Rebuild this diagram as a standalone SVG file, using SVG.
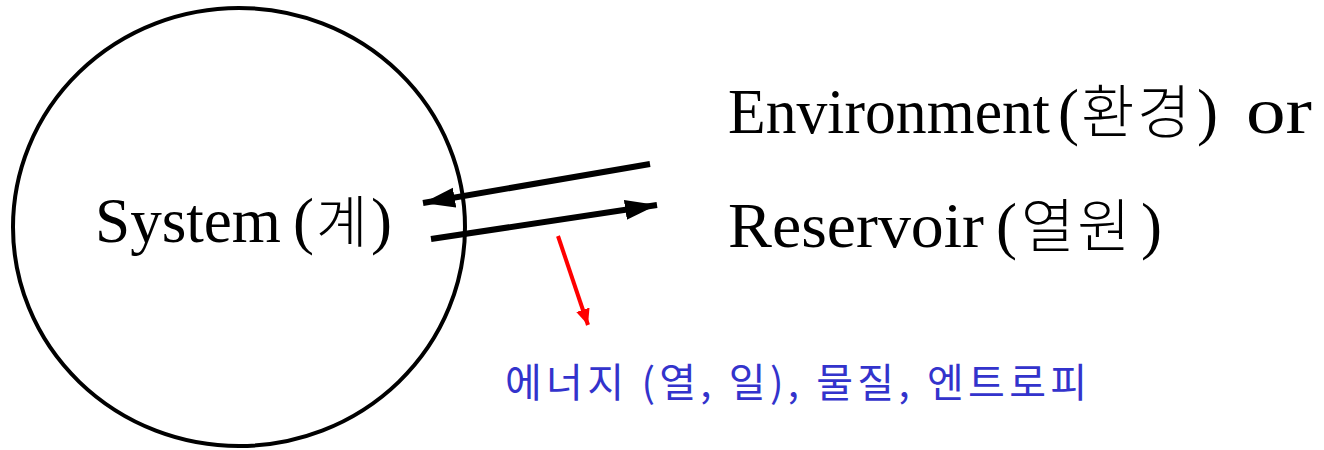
<svg xmlns="http://www.w3.org/2000/svg" width="1324" height="450" viewBox="0 0 1324 450">
<style>
.lbl{font-family:"Liberation Serif","Noto Sans CJK KR",serif;fill:#000;font-size:63px}
.ko{font-family:"Noto Sans CJK KR","Noto Sans",sans-serif;font-weight:300}
.note{font-family:"Noto Sans CJK KR","Noto Sans",sans-serif;fill:#3333cc;font-size:40px}
.blk{stroke:#000;stroke-width:6;fill:none}
.red{stroke:#ff0000;stroke-width:4;fill:none}
</style>
<defs>
<marker id="ah" markerUnits="userSpaceOnUse" markerWidth="34" markerHeight="22" refX="32" refY="10" orient="auto" viewBox="0 0 34 20">
<path d="M0,0 L32,10 L0,20 Z" fill="#000"/>
</marker>
<marker id="ahr" markerUnits="userSpaceOnUse" markerWidth="18" markerHeight="16" refX="16" refY="7" orient="auto" viewBox="0 0 18 14">
<path d="M0,0 L16,7 L0,14 Z" fill="#ff0000"/>
</marker>
</defs>
<g id="system">
<ellipse cx="239" cy="227" rx="226" ry="219" fill="none" stroke="#000" stroke-width="4"/>
<text class="lbl" y="242"><tspan x="95" textLength="186" lengthAdjust="spacingAndGlyphs">System</tspan><tspan x="293">(</tspan><tspan class="ko" x="316" font-size="56">계</tspan><tspan x="371">)</tspan></text>
</g>
<g id="environment">
<text class="lbl" y="133"><tspan x="728" textLength="322" lengthAdjust="spacingAndGlyphs">Environment</tspan><tspan x="1058">(</tspan><tspan class="ko" x="1081" font-size="58" letter-spacing="3">환경</tspan><tspan x="1197">)</tspan><tspan x="1246" font-size="66" textLength="66" lengthAdjust="spacingAndGlyphs">or</tspan></text>
<text class="lbl" y="247"><tspan x="728" textLength="256" lengthAdjust="spacingAndGlyphs">Reservoir</tspan><tspan x="996">(</tspan><tspan class="ko" x="1021" font-size="58" letter-spacing="3">열원</tspan><tspan x="1141">)</tspan></text>
</g>
<g id="note">
<text class="note" x="505" y="397" textLength="582" lengthAdjust="spacing">에너지 (열, 일), 물질, 엔트로피</text>
</g>
<g id="connectors">
<line class="blk" x1="650" y1="164" x2="423" y2="203" marker-end="url(#ah)"/>
<line class="blk" x1="431" y1="239" x2="657" y2="205" marker-end="url(#ah)"/>
<line class="red" x1="558" y1="236" x2="588" y2="325" marker-end="url(#ahr)"/>
</g>
</svg>
